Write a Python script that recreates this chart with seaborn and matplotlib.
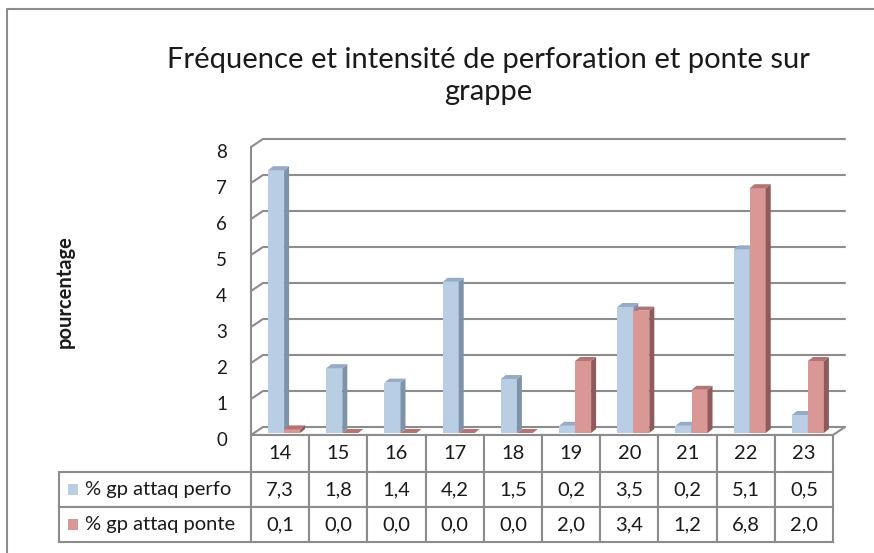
import numpy as np
import pandas as pd
import matplotlib
matplotlib.use("Agg")
import matplotlib.pyplot as plt
from matplotlib.patches import Polygon, Rectangle
from matplotlib.table import Table
import seaborn as sns

# données
semaines = ["14", "15", "16", "17", "18", "19", "20", "21", "22", "23"]
perfo = [7.3, 1.8, 1.4, 4.2, 1.5, 0.2, 3.5, 0.2, 5.1, 0.5]
ponte = [0.1, 0.0, 0.0, 0.0, 0.0, 2.0, 3.4, 1.2, 6.8, 2.0]
series = ["% gp attaq perfo", "% gp attaq ponte"]
yticks = [0, 1, 2, 3, 4, 5, 6, 7, 8]

df = pd.DataFrame({
    "semaine": semaines * 2,
    "valeur": perfo + ponte,
    "serie": [series[0]] * len(semaines) + [series[1]] * len(semaines),
})

bleu, rouge = "#b9cde5", "#d99795"
cotes = {bleu: "#7e92aa", rouge: "#8e5b5a"}
dessus = {bleu: "#95abc6", rouge: "#b37573"}
gris = "#8c8c8c"

sns.set_style("white")
plt.rcParams["font.family"] = ["Lato", "DejaVu Sans"]

W, H = 874, 553
fig = plt.figure(figsize=(W / 100, H / 100), dpi=100)

# mur du fond du graphe 3D
x0, x1, y0, y1 = 263, 845, 139, 427
ax = fig.add_axes([x0 / W, 1 - y1 / H, (x1 - x0) / W, (y1 - y0) / H])
ax.set_xlim(-0.5, 9.5)
ax.set_ylim(0, 8)
px = (x1 - x0) / 10.0   # pixels par catégorie
py = (y1 - y0) / 8.0    # pixels par unité

sns.barplot(data=df, x="semaine", y="valeur", hue="serie", palette=[bleu, rouge],
            width=0.55, saturation=1, legend=False, ax=ax, linewidth=0)

for s in ax.spines.values():
    s.set_visible(False)
ax.set_xlabel("")
ax.set_ylabel("")
ax.set_xticks([])
ax.set_yticks([])

# profondeur : mur gauche et sol
fx, fy = 12 / px, 8 / py
for v in yticks:
    ax.plot([-0.5 - fx, -0.5, 9.5], [v - fy, v, v], color=gris, lw=1.5,
            clip_on=False, zorder=0.5)
    ax.text(-0.5 - 36 / px, v - 13 / py, str(v), ha="right", va="center",
            fontsize=13.5, color="#1a1a1a")
ax.plot([-0.5 - fx, -0.5 - fx], [-fy, 8 - fy], color=gris, lw=1.5, clip_on=False)
ax.plot([-0.5 - fx, 9.5 - fx, 9.5], [-fy, -fy, 0], color=gris, lw=1.5, clip_on=False)

# barres en pseudo-3D
bx, by = -8 / px, -6 / py
dx, dy = 5 / px, 4 / py
bars = list(ax.patches)
for p in bars:
    c = matplotlib.colors.to_hex(p.get_facecolor())
    z = 2 if c == bleu else 3
    p.set_x(p.get_x() + bx)
    p.set_y(by)
    p.set_clip_on(False)
    p.set_zorder(z)
    l, w, h = p.get_x(), p.get_width(), p.get_height()
    r = l + w
    ax.add_patch(Polygon([(r, by), (r + dx, by + dy), (r + dx, by + h + dy), (r, by + h)],
                         closed=True, fc=cotes[c], ec="none", clip_on=False, zorder=z))
    ax.add_patch(Polygon([(l, by + h), (r, by + h), (r + dx, by + h + dy), (l + dx, by + h + dy)],
                         closed=True, fc=dessus[c], ec="none", clip_on=False, zorder=z))

# table de données sous le sol
g0, g1, tt, tb, lab0 = 251, 833, 435, 542, 59
tw, hh = g1 - lab0, tb - tt
tax = fig.add_axes([lab0 / W, 1 - tb / H, tw / W, hh / H])
tax.axis("off")
cell_text = [[f"{v:.1f}".replace(".", ",") for v in perfo],
             [f"{v:.1f}".replace(".", ",") for v in ponte]]
lab_w = (g0 - lab0) / tw
col_w = (1 - lab_w) / len(semaines)
row_h = [37 / hh, 35 / hh, 35 / hh]
tab = Table(tax, bbox=[0, 0, 1, 1])
for j, s in enumerate(semaines):
    tab.add_cell(0, j + 1, col_w, row_h[0], text=s, loc="center")
for i, (nom, vals) in enumerate(zip(series, cell_text)):
    cell = tab.add_cell(i + 1, 0, lab_w, row_h[i + 1], text=nom, loc="left")
    cell.PAD = 26 / (g0 - lab0)
    for j, v in enumerate(vals):
        tab.add_cell(i + 1, j + 1, col_w, row_h[i + 1], text=v, loc="center")
tab.auto_set_font_size(False)
for cell in tab.get_celld().values():
    cell.set_edgecolor(gris)
    cell.set_linewidth(1.5)
    cell.get_text().set_fontsize(14.5)
    cell.get_text().set_color("#1a1a1a")
tax.add_table(tab)

# carrés de légende
for i, col in enumerate([bleu, rouge]):
    yc = 1 - (37 + 35 * i + 17.5) / hh
    tax.add_patch(Rectangle((9 / tw, yc - 5.5 / hh), 10 / tw, 11 / hh,
                            transform=tax.transAxes, fc=col, ec="none", clip_on=False,
                            zorder=5))

fig.text(488 / W, 1 - 76 / H, "Fréquence et intensité de perforation et ponte sur\ngrappe",
         ha="center", va="center", fontsize=21, linespacing=1.32, color="#1a1a1a")
fig.text(65 / W, 1 - 292 / H, "pourcentage", rotation=90, ha="center", va="center",
         fontsize=14.5, fontweight="bold", color="#1a1a1a")

# cadre du graphique (bords gauche et haut)
fig.add_artist(plt.Line2D([7 / W, 7 / W, 1.02], [-0.02, 1 - 9 / H, 1 - 9 / H],
                          transform=fig.transFigure, color=gris, lw=1.5))

fig.savefig("out.png", dpi=100, facecolor="white")
